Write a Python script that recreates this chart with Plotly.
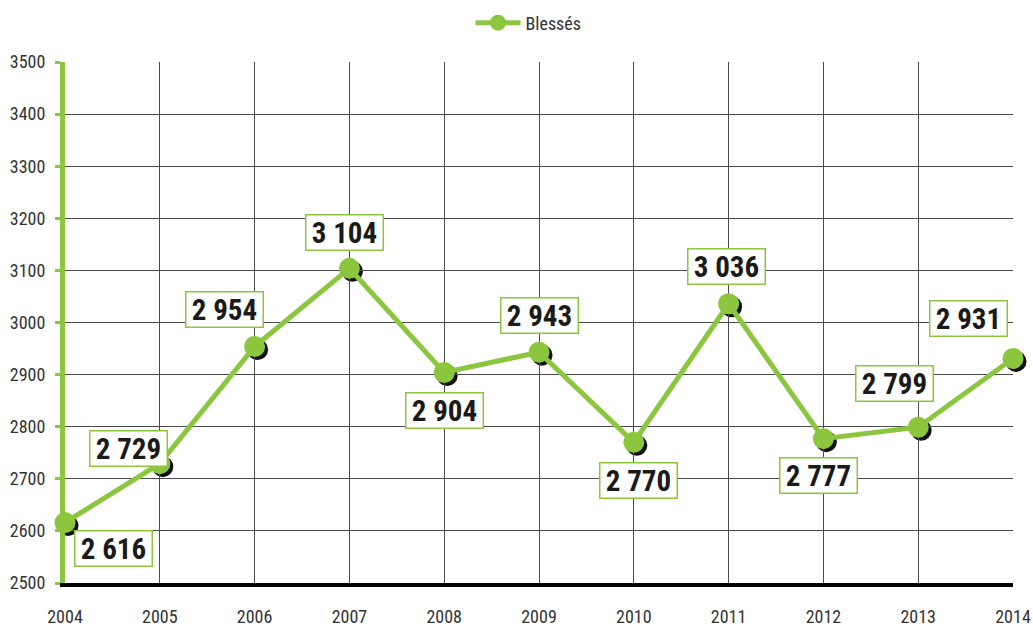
import plotly.graph_objects as go

years = [2004, 2005, 2006, 2007, 2008, 2009, 2010, 2011, 2012, 2013, 2014]
blesses = [2616, 2729, 2954, 3104, 2904, 2943, 2770, 3036, 2777, 2799, 2931]
labels = ["2 616", "2 729", "2 954", "3 104", "2 904", "2 943", "2 770", "3 036", "2 777", "2 799", "2 931"]
# label offsets (pixels) relative to each point
label_dx = [48, -31, -30, -5, 0, 0, 5, -2, -5, -24, -45]
label_dy = [26, -15, -37, -36, 38, -37, 38, -37, 37, -44, -40]
y_ticks = [2500, 2600, 2700, 2800, 2900, 3000, 3100, 3200, 3300, 3400, 3500]

GREEN = "#8cc63f"
FONT = "Liberation Sans Narrow, Roboto Condensed, Arial Narrow, sans-serif"
W, H = 1033, 627
ml, mr, mt, mb = 65, 17, 62, 41
pw = W - ml - mr
ph = H - mt - mb
sx, sy = 3 / pw, 3 / ph

fig = go.Figure()

# shadow trace on offset (hidden) base axes
fig.add_trace(go.Scatter(
    x=years, y=blesses, mode="markers", xaxis="x", yaxis="y",
    marker=dict(size=21, color="#111111"), showlegend=False, hoverinfo="skip",
    cliponaxis=False,
))
fig.add_trace(go.Scatter(
    x=years, y=blesses, mode="lines+markers", name="Blessés", xaxis="x2", yaxis="y2",
    line=dict(color=GREEN, width=5),
    marker=dict(size=21, color=GREEN),
    cliponaxis=False,
))

for x, y, t, dx, dy in zip(years, blesses, labels, label_dx, label_dy):
    fig.add_annotation(
        x=x, y=y, xref="x2", yref="y2", text="<b>" + t + "</b>", showarrow=False,
        xshift=dx, yshift=-dy, width=72, height=30,
        font=dict(family=FONT, size=29, color="#1a1a1a"),
        bgcolor="white", bordercolor=GREEN, borderwidth=1.5, borderpad=2,
    )

fig.update_layout(
    width=W, height=H,
    margin=dict(l=ml, r=mr, t=mt, b=mb, autoexpand=False),
    paper_bgcolor="white", plot_bgcolor="rgba(0,0,0,0)",
    font=dict(family=FONT, color="#333333"),
    showlegend=True,
    legend=dict(orientation="h", x=0.5 - 12 / pw, xanchor="center", y=1 + 39 / ph,
                yanchor="middle", font=dict(size=18, color="#333333"), itemwidth=45),
    xaxis=dict(range=[2004, 2014], domain=[sx, 1], visible=False, showgrid=False,
               zeroline=False, automargin=False, anchor="y"),
    yaxis=dict(range=[2500, 3500], domain=[0, 1 - sy], visible=False, showgrid=False,
               zeroline=False, automargin=False, anchor="x"),
    xaxis2=dict(
        range=[2004, 2014], domain=[0, 1 - sx], tickvals=years,
        ticktext=[str(y) for y in years], anchor="y2", side="bottom",
        showgrid=True, gridcolor="#4a4a4a", gridwidth=1,
        showline=True, linecolor="black", linewidth=4,
        ticks="", tickfont=dict(size=18, color="#333333"), ticklabelstandoff=14,
        zeroline=False, automargin=False,
    ),
    yaxis2=dict(
        range=[2500, 3500], domain=[sy, 1], tickvals=y_ticks, anchor="x2",
        side="left",
        showgrid=True, gridcolor="#4a4a4a", gridwidth=1,
        showline=True, linecolor=GREEN, linewidth=5,
        ticks="outside", ticklen=5, tickwidth=3, tickcolor=GREEN,
        tickfont=dict(size=18, color="#333333"), ticklabelstandoff=6,
        zeroline=False, automargin=False,
    ),
)

fig.write_html(
    "out.html",
    config={"displayModeBar": False},
    post_script="document.body.style.margin='0';document.body.style.overflow='hidden';",
)
